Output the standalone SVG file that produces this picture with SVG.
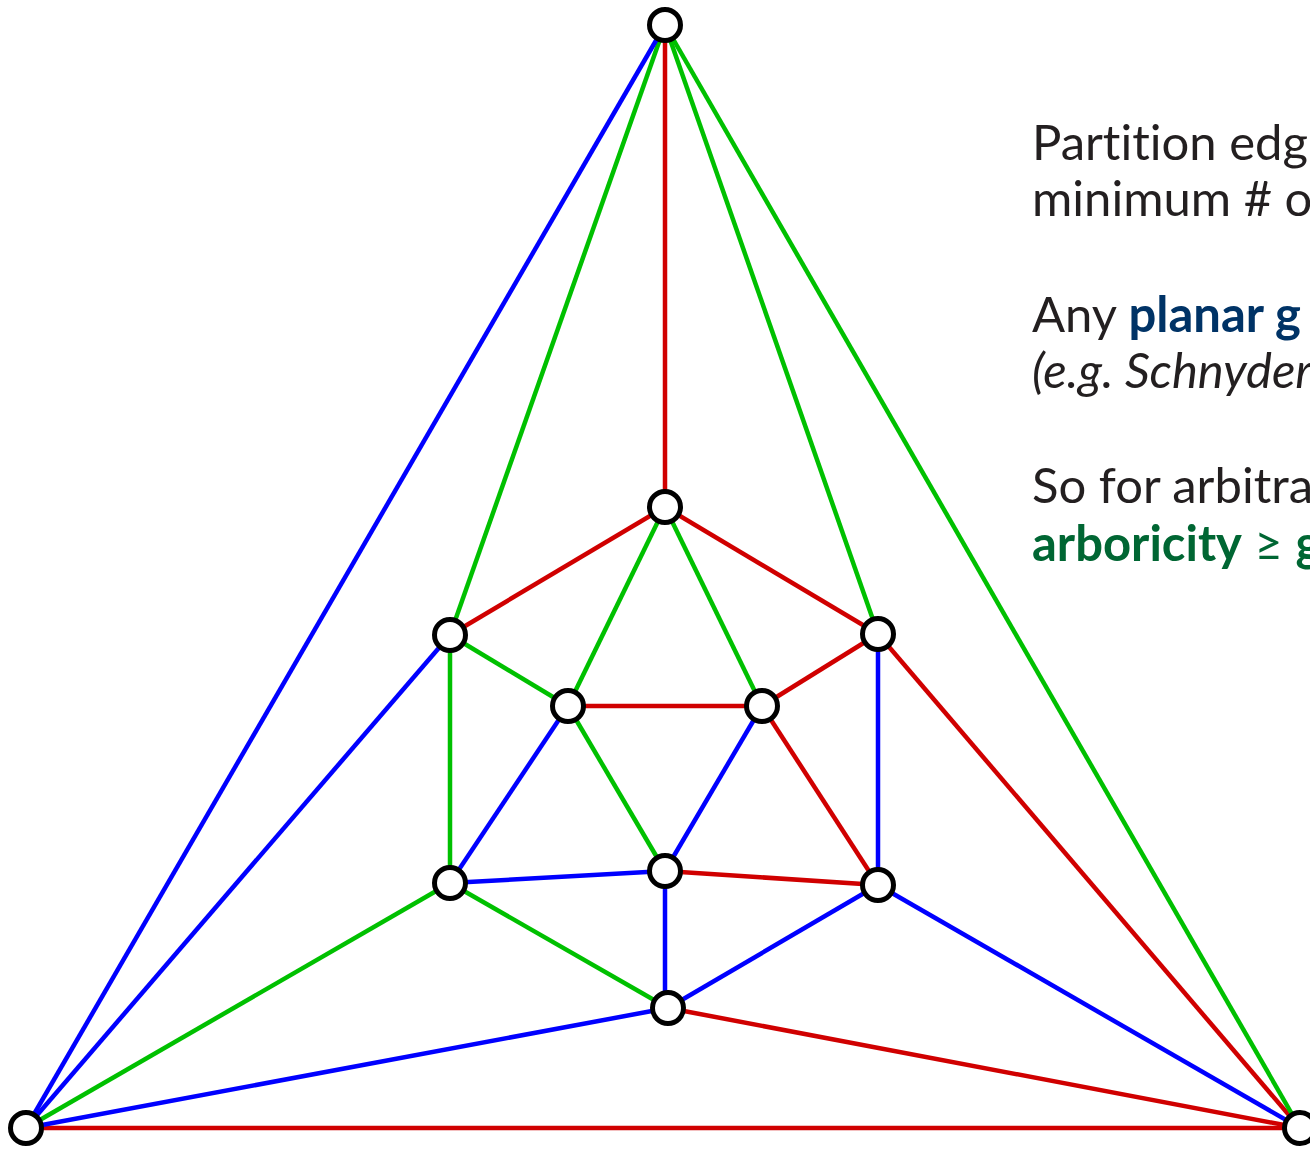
<svg xmlns="http://www.w3.org/2000/svg" width="1310" height="1151" viewBox="0 0 1310 1151">
<style>
.r{stroke:#d00000}.g{stroke:#00c000}.b{stroke:#0000ff}
#edges line{stroke-width:4.5;fill:none}
.n circle{fill:#fff;stroke:#000;stroke-width:5}
text{font-family:Lato,"Open Sans","Noto Sans",sans-serif;font-size:49px;fill:#231f20;font-variant-ligatures:none}
.bl{fill:#003366;font-weight:bold}.gr{fill:#006633}.bd{font-weight:bold}
</style>
<rect width="1310" height="1151" fill="#fff"/>
<g id="edges">
<line class="r" x1="665" y1="25" x2="665" y2="507"/>
<line class="r" x1="665" y1="507" x2="450" y2="635"/>
<line class="r" x1="665" y1="507" x2="878" y2="634"/>
<line class="r" x1="878" y1="634" x2="762" y2="706"/>
<line class="r" x1="568" y1="706" x2="762" y2="706"/>
<line class="r" x1="762" y1="706" x2="878" y2="885"/>
<line class="r" x1="665" y1="871" x2="878" y2="885"/>
<line class="r" x1="878" y1="634" x2="1300" y2="1128"/>
<line class="r" x1="668" y1="1008" x2="1300" y2="1128"/>
<line class="r" x1="26" y1="1128" x2="1300" y2="1128"/>
<line class="g" x1="665" y1="25" x2="450" y2="635"/>
<line class="g" x1="665" y1="25" x2="878" y2="634"/>
<line class="g" x1="665" y1="25" x2="1300" y2="1128"/>
<line class="g" x1="665" y1="507" x2="568" y2="706"/>
<line class="g" x1="665" y1="507" x2="762" y2="706"/>
<line class="g" x1="450" y1="635" x2="568" y2="706"/>
<line class="g" x1="450" y1="635" x2="450" y2="883"/>
<line class="g" x1="568" y1="706" x2="665" y2="871"/>
<line class="g" x1="450" y1="883" x2="26" y2="1128"/>
<line class="g" x1="450" y1="883" x2="668" y2="1008"/>
<line class="b" x1="665" y1="25" x2="26" y2="1128"/>
<line class="b" x1="450" y1="635" x2="26" y2="1128"/>
<line class="b" x1="568" y1="706" x2="450" y2="883"/>
<line class="b" x1="762" y1="706" x2="665" y2="871"/>
<line class="b" x1="878" y1="634" x2="878" y2="885"/>
<line class="b" x1="450" y1="883" x2="665" y2="871"/>
<line class="b" x1="665" y1="871" x2="665" y2="1008"/>
<line class="b" x1="878" y1="885" x2="668" y2="1008"/>
<line class="b" x1="878" y1="885" x2="1300" y2="1128"/>
<line class="b" x1="668" y1="1008" x2="26" y2="1128"/>
</g>
<g id="n-top" class="n"><circle cx="665" cy="25" r="15.5"/></g>
<g id="n-bl" class="n"><circle cx="26" cy="1128" r="15.5"/></g>
<g id="n-br" class="n"><circle cx="1300" cy="1128" r="15.5"/></g>
<g id="n-c" class="n"><circle cx="665" cy="507" r="15.5"/></g>
<g id="n-l" class="n"><circle cx="450" cy="635" r="15.5"/></g>
<g id="n-r" class="n"><circle cx="878" cy="634" r="15.5"/></g>
<g id="n-il" class="n"><circle cx="568" cy="706" r="15.5"/></g>
<g id="n-ir" class="n"><circle cx="762" cy="706" r="15.5"/></g>
<g id="n-ll" class="n"><circle cx="450" cy="883" r="15.5"/></g>
<g id="n-m" class="n"><circle cx="665" cy="871" r="15.5"/></g>
<g id="n-rr" class="n"><circle cx="878" cy="885" r="15.5"/></g>
<g id="n-b" class="n"><circle cx="668" cy="1008" r="15.5"/></g>
<g id="text">
<text x="1032" y="160">Partition edg</text>
<text x="1032" y="216">minimum # o</text>
<text x="1032" y="332">Any <tspan class="bl">planar g</tspan></text>
<text x="1032" y="388" font-style="italic">(e.g. Schnyder</text>
<text x="1032" y="503">So for arbitra</text>
<text x="1032" y="561" class="gr"><tspan class="bd">arboricity</tspan> ≥ <tspan class="bd">g</tspan></text>
</g>
</svg>
